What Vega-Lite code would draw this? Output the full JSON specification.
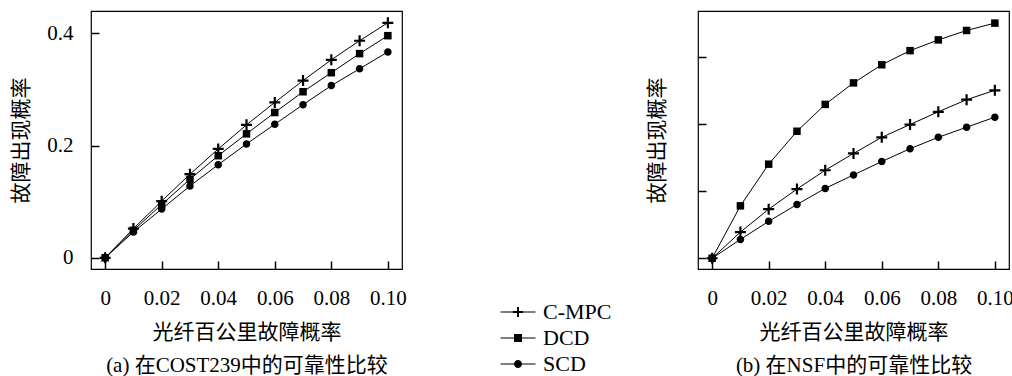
{
  "$schema": "https://vega.github.io/schema/vega-lite/v6.json",
  "padding": {"left": 10, "top": 10, "right": 0, "bottom": 0},
  "background": "white",
  "config": {
    "font": "Liberation Serif, Noto Sans CJK SC",
    "view": {"stroke": "black", "strokeWidth": 1.2},
    "axis": {
      "domain": false,
      "grid": false,
      "tickColor": "black",
      "tickSize": -8,
      "tickWidth": 1.5,
      "labelFont": "Liberation Serif, Noto Sans CJK SC",
      "labelFontSize": 21,
      "labelColor": "black",
      "labelPadding": 26,
      "titleFont": "Liberation Serif, Noto Sans CJK SC",
      "titleFontSize": 21,
      "titleFontWeight": "normal",
      "titleColor": "black"
    }
  },
  "datasets": {
    "a": [
      {"x": 0, "y": 0, "series": "C-MPC"},
      {"x": 0.01, "y": 0.052, "series": "C-MPC"},
      {"x": 0.02, "y": 0.101, "series": "C-MPC"},
      {"x": 0.03, "y": 0.149, "series": "C-MPC"},
      {"x": 0.04, "y": 0.194, "series": "C-MPC"},
      {"x": 0.05, "y": 0.237, "series": "C-MPC"},
      {"x": 0.06, "y": 0.277, "series": "C-MPC"},
      {"x": 0.07, "y": 0.316, "series": "C-MPC"},
      {"x": 0.08, "y": 0.353, "series": "C-MPC"},
      {"x": 0.09, "y": 0.387, "series": "C-MPC"},
      {"x": 0.1, "y": 0.419, "series": "C-MPC"},
      {"x": 0, "y": 0, "series": "DCD"},
      {"x": 0.01, "y": 0.049, "series": "DCD"},
      {"x": 0.02, "y": 0.095, "series": "DCD"},
      {"x": 0.03, "y": 0.14, "series": "DCD"},
      {"x": 0.04, "y": 0.182, "series": "DCD"},
      {"x": 0.05, "y": 0.221, "series": "DCD"},
      {"x": 0.06, "y": 0.259, "series": "DCD"},
      {"x": 0.07, "y": 0.296, "series": "DCD"},
      {"x": 0.08, "y": 0.33, "series": "DCD"},
      {"x": 0.09, "y": 0.364, "series": "DCD"},
      {"x": 0.1, "y": 0.396, "series": "DCD"},
      {"x": 0, "y": 0, "series": "SCD"},
      {"x": 0.01, "y": 0.046, "series": "SCD"},
      {"x": 0.02, "y": 0.087, "series": "SCD"},
      {"x": 0.03, "y": 0.128, "series": "SCD"},
      {"x": 0.04, "y": 0.166, "series": "SCD"},
      {"x": 0.05, "y": 0.203, "series": "SCD"},
      {"x": 0.06, "y": 0.238, "series": "SCD"},
      {"x": 0.07, "y": 0.273, "series": "SCD"},
      {"x": 0.08, "y": 0.307, "series": "SCD"},
      {"x": 0.09, "y": 0.337, "series": "SCD"},
      {"x": 0.1, "y": 0.367, "series": "SCD"}
    ],
    "b": [
      {"x": 0, "y": 0, "series": "C-MPC"},
      {"x": 0.01, "y": 0.039, "series": "C-MPC"},
      {"x": 0.02, "y": 0.073, "series": "C-MPC"},
      {"x": 0.03, "y": 0.103, "series": "C-MPC"},
      {"x": 0.04, "y": 0.131, "series": "C-MPC"},
      {"x": 0.05, "y": 0.156, "series": "C-MPC"},
      {"x": 0.06, "y": 0.18, "series": "C-MPC"},
      {"x": 0.07, "y": 0.199, "series": "C-MPC"},
      {"x": 0.08, "y": 0.218, "series": "C-MPC"},
      {"x": 0.09, "y": 0.236, "series": "C-MPC"},
      {"x": 0.1, "y": 0.25, "series": "C-MPC"},
      {"x": 0, "y": 0, "series": "DCD"},
      {"x": 0.01, "y": 0.078, "series": "DCD"},
      {"x": 0.02, "y": 0.14, "series": "DCD"},
      {"x": 0.03, "y": 0.189, "series": "DCD"},
      {"x": 0.04, "y": 0.229, "series": "DCD"},
      {"x": 0.05, "y": 0.261, "series": "DCD"},
      {"x": 0.06, "y": 0.288, "series": "DCD"},
      {"x": 0.07, "y": 0.309, "series": "DCD"},
      {"x": 0.08, "y": 0.325, "series": "DCD"},
      {"x": 0.09, "y": 0.339, "series": "DCD"},
      {"x": 0.1, "y": 0.35, "series": "DCD"},
      {"x": 0, "y": 0, "series": "SCD"},
      {"x": 0.01, "y": 0.028, "series": "SCD"},
      {"x": 0.02, "y": 0.055, "series": "SCD"},
      {"x": 0.03, "y": 0.08, "series": "SCD"},
      {"x": 0.04, "y": 0.104, "series": "SCD"},
      {"x": 0.05, "y": 0.124, "series": "SCD"},
      {"x": 0.06, "y": 0.144, "series": "SCD"},
      {"x": 0.07, "y": 0.163, "series": "SCD"},
      {"x": 0.08, "y": 0.18, "series": "SCD"},
      {"x": 0.09, "y": 0.195, "series": "SCD"},
      {"x": 0.1, "y": 0.21, "series": "SCD"}
    ]
  },
  "bounds": "flush",
  "spacing": 296,
  "resolve": {"scale": {"shape": "independent"}, "legend": {"shape": "independent"}},
  "hconcat": [
    {
      "width": 311,
      "height": 258,
      "data": {"name": "a"},
      "resolve": {"scale": {"shape": "independent"}},
      "encoding": {
        "x": {
          "field": "x", "type": "quantitative",
          "scale": {"domain": [-0.005, 0.105], "nice": false, "zero": false},
          "axis": {
            "values": [0, 0.02, 0.04, 0.06, 0.08, 0.1],
            "labelExpr": "datum.value == 0 ? '0' : format(datum.value, '.2f')",
            "title": ["光纤百公里故障概率", "(a) 在COST239中的可靠性比较"],
            "titleLineHeight": 33,
            "titlePadding": 13
          }
        },
        "y": {
          "field": "y", "type": "quantitative",
          "scale": {"domain": [-0.02, 0.44], "nice": false, "zero": false},
          "axis": {
            "values": [0, 0.2, 0.4],
            "labelExpr": "datum.value == 0 ? '0' : format(datum.value, '.1f')",
            "title": "故障出现概率",
            "titlePadding": 15
          }
        }
      },
      "layer": [
        {
          "mark": {"type": "line", "color": "black", "strokeWidth": 1},
          "encoding": {"detail": {"field": "series"}}
        },
        {
          "mark": {"type": "point", "filled": true, "size": 100, "opacity": 1, "color": "black", "strokeWidth": 0},
          "encoding": {
            "shape": {
              "field": "series", "type": "nominal",
              "scale": {
                "domain": ["C-MPC", "DCD", "SCD"],
                "range": [
                  "M-0.22,-1.1H0.22V-0.22H1.1V0.22H0.22V1.1H-0.22V0.22H-1.1V-0.22H-0.22Z",
                  "M-0.75,-0.75H0.75V0.75H-0.75Z",
                  "M-0.75,0A0.75,0.75,0,1,1,0.75,0A0.75,0.75,0,1,1,-0.75,0Z"
                ]
              },
              "legend": null
            }
          }
        },
        {
          "mark": {"type": "point", "filled": true, "size": 100, "opacity": 0, "color": "black", "strokeWidth": 0},
          "encoding": {
            "shape": {
              "field": "series", "type": "nominal",
              "scale": {
                "domain": ["C-MPC", "DCD", "SCD"],
                "range": [
                  "M-3.5,-0.1H3.5V0.1H-3.5ZM-0.2,-1H0.2V-0.2H1V0.2H0.2V1H-0.2V0.2H-1V-0.2H-0.2Z",
                  "M-3.5,-0.1H3.5V0.1H-3.5ZM-0.8,-0.8H0.8V0.8H-0.8Z",
                  "M-3.5,-0.1H3.5V0.1H-3.5ZM-0.8,0A0.8,0.8,0,1,1,0.8,0A0.8,0.8,0,1,1,-0.8,0Z"
                ]
              },
              "legend": {
                "title": null,
                "orient": "none",
                "legendX": 416,
                "legendY": 290,
                "padding": 0,
                "symbolSize": 100,
                "symbolOpacity": 1,
                "symbolFillColor": "black",
                "symbolStrokeColor": "black",
                "symbolStrokeWidth": 0,
                "labelFont": "Liberation Serif",
                "labelFontSize": 22,
                "labelColor": "black",
                "labelOffset": 14,
                "rowPadding": 4
              }
            }
          }
        }
      ]
    },
    {
      "width": 311,
      "height": 258,
      "data": {"name": "b"},
      "encoding": {
        "x": {
          "field": "x", "type": "quantitative",
          "scale": {"domain": [-0.005, 0.105], "nice": false, "zero": false},
          "axis": {
            "values": [0, 0.02, 0.04, 0.06, 0.08, 0.1],
            "labelExpr": "datum.value == 0 ? '0' : format(datum.value, '.2f')",
            "title": ["光纤百公里故障概率", "(b) 在NSF中的可靠性比较"],
            "titleLineHeight": 33,
            "titlePadding": 13
          }
        },
        "y": {
          "field": "y", "type": "quantitative",
          "scale": {"domain": [-0.016, 0.368], "nice": false, "zero": false},
          "axis": {
            "values": [0, 0.1, 0.2, 0.3],
            "labels": false,
            "title": "故障出现概率",
            "titlePadding": 30
          }
        }
      },
      "layer": [
        {
          "mark": {"type": "line", "color": "black", "strokeWidth": 1},
          "encoding": {"detail": {"field": "series"}}
        },
        {
          "mark": {"type": "point", "filled": true, "size": 100, "opacity": 1, "color": "black", "strokeWidth": 0},
          "encoding": {
            "shape": {
              "field": "series", "type": "nominal",
              "scale": {
                "domain": ["C-MPC", "DCD", "SCD"],
                "range": [
                  "M-0.22,-1.1H0.22V-0.22H1.1V0.22H0.22V1.1H-0.22V0.22H-1.1V-0.22H-0.22Z",
                  "M-0.75,-0.75H0.75V0.75H-0.75Z",
                  "M-0.75,0A0.75,0.75,0,1,1,0.75,0A0.75,0.75,0,1,1,-0.75,0Z"
                ]
              },
              "legend": null
            }
          }
        }
      ]
    }
  ]
}
